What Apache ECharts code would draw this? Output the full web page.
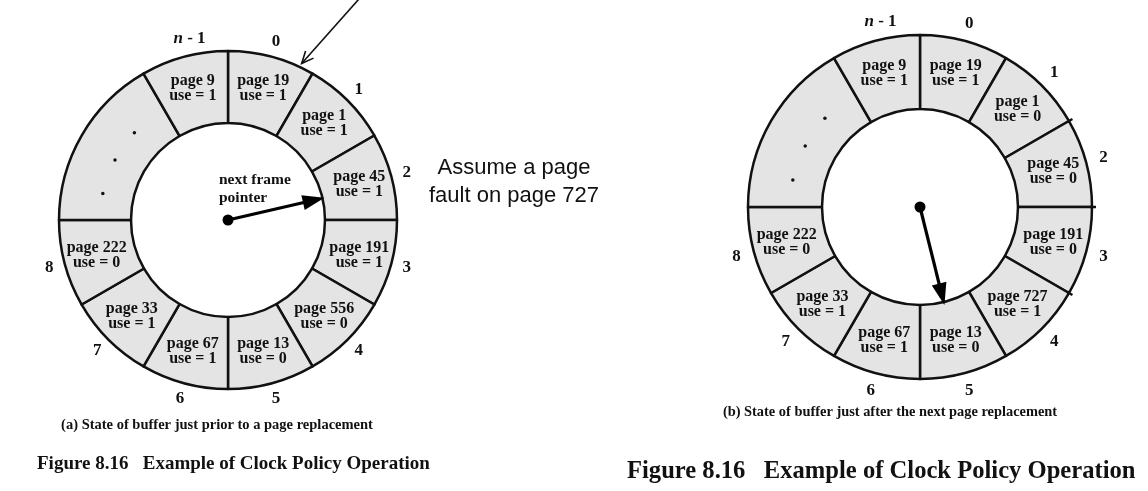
<!DOCTYPE html>
<html>
<head>
<meta charset="utf-8">
<script src="https://cdn.jsdelivr.net/npm/echarts@6/dist/echarts.min.js"></script>
<style>
  html, body { margin: 0; padding: 0; background: #fff; }
  #main { width: 1148px; height: 491px; }
</style>
</head>
<body>
<div id="main"></div>
<script>
// buffer frames, clockwise from the top (frame 0), the "..." gap spans two slots
var spans = [30, 30, 30, 30, 30, 30, 30, 30, 30, 60, 30];
var pagesA = ['page 19', 'page 1', 'page 45', 'page 191', 'page 556', 'page 13', 'page 67', 'page 33', 'page 222', '', 'page 9'];
var useA = [1, 1, 1, 1, 0, 0, 1, 1, 0, null, 1];
var pagesB = ['page 19', 'page 1', 'page 45', 'page 191', 'page 727', 'page 13', 'page 67', 'page 33', 'page 222', '', 'page 9'];
var useB = [1, 0, 0, 0, 1, 0, 1, 1, 0, null, 1];

// frame numbers around the ring (angle in degrees, clockwise from top)
var frameLabels = ['0', '1', '2', '3', '4', '5', '6', '7', '8', 'n - 1'];
var frameAngles = [15, 45, 75, 105, 135, 165, 195, 225, 255, 348];
var dotAngles = [282, 298, 313];

// next frame pointer: [length, angle]
var pointerA = [99, 77];
var pointerB = [101, 166];
// incoming arrow on (a): [r from, angle from, r to, angle to]
var incoming = [258, 30.7, 173, 25.2];
// small overshoots of the divider lines on (b)
var tickAnglesB = [60, 90, 120];

var SERIF = '"Liberation Serif", "Times New Roman", serif';
var SANS = '"Liberation Sans", Arial, sans-serif';

function ringData(pages, use) {
  return spans.map(function (v, i) {
    return { value: v, name: pages[i], use: use[i] };
  });
}

function ringSeries(pages, use, center, radius) {
  return {
    type: 'pie',
    center: center,
    radius: radius,
    startAngle: 90,
    clockwise: true,
    silent: true,
    avoidLabelOverlap: false,
    emphasis: { disabled: true },
    itemStyle: { color: '#e4e4e4', borderColor: '#111', borderWidth: 2.5 },
    label: {
      show: true,
      position: 'inside',
      color: '#111',
      fontFamily: SERIF,
      fontWeight: 'bold',
      fontSize: 16,
      lineHeight: 15,
      formatter: function (p) {
        if (!p.name) return '';
        return p.name + '\nuse = ' + p.data.use;
      }
    },
    labelLine: { show: false },
    data: ringData(pages, use)
  };
}

function labelSeries(idx, r) {
  return {
    type: 'scatter',
    coordinateSystem: 'polar',
    polarIndex: idx,
    silent: true,
    symbolSize: 1,
    itemStyle: { color: 'rgba(0,0,0,0)', opacity: 1 },
    label: {
      show: true,
      position: 'inside',
      color: '#111',
      fontFamily: SERIF,
      fontWeight: 'bold',
      fontSize: 17,
      formatter: function (p) {
        return p.name === 'n - 1' ? '{i|n} - 1' : p.name;
      },
      rich: {
        i: { fontStyle: 'italic', fontFamily: SERIF, fontWeight: 'bold', fontSize: 17, color: '#111' }
      }
    },
    data: frameLabels.map(function (t, i) {
      return { name: t, value: [r, frameAngles[i]] };
    })
  };
}

function dotSeries(idx, r) {
  return {
    type: 'scatter',
    coordinateSystem: 'polar',
    polarIndex: idx,
    silent: true,
    symbolSize: 3.5,
    itemStyle: { color: '#111', opacity: 1 },
    data: dotAngles.map(function (a) { return [r, a]; })
  };
}

function pointerSeries(idx, p) {
  return {
    type: 'custom',
    coordinateSystem: 'polar',
    polarIndex: idx,
    silent: true,
    z: 5,
    renderItem: function (params, api) {
      var len = api.value(0), ang = api.value(1);
      var c = api.coord([0, ang]);
      var t = api.coord([len, ang]);
      var dx = t[0] - c[0], dy = t[1] - c[1];
      var d = Math.sqrt(dx * dx + dy * dy);
      var ux = dx / d, uy = dy / d;
      var hl = 22, hw = 7.5;
      var bx = t[0] - ux * hl, by = t[1] - uy * hl;
      return {
        type: 'group',
        children: [
          { type: 'line', shape: { x1: c[0], y1: c[1], x2: bx + ux * 3, y2: by + uy * 3 },
            style: { stroke: '#000', lineWidth: 3.2 } },
          { type: 'polygon', shape: { points: [[t[0], t[1]], [bx - uy * hw, by + ux * hw], [bx + uy * hw, by - ux * hw]] },
            style: { fill: '#000' } },
          { type: 'circle', shape: { cx: c[0], cy: c[1], r: 5.5 }, style: { fill: '#000' } }
        ]
      };
    },
    data: [p]
  };
}

var option = {
  animation: false,
  backgroundColor: '#fff',
  polar: [
    { center: [228, 220], radius: 260 },
    { center: [920, 207], radius: 260 }
  ],
  angleAxis: [0, 1].map(function (i) {
    return {
      polarIndex: i, type: 'value', min: 0, max: 360, startAngle: 90, clockwise: true,
      axisLine: { show: false }, axisTick: { show: false }, axisLabel: { show: false },
      splitLine: { show: false }, splitArea: { show: false }
    };
  }),
  radiusAxis: [0, 1].map(function (i) {
    return {
      polarIndex: i, type: 'value', min: 0, max: 260,
      axisLine: { show: false }, axisTick: { show: false }, axisLabel: { show: false },
      splitLine: { show: false }, splitArea: { show: false }
    };
  }),
  graphic: [
    { type: 'text', x: 514, y: 182, style: { text: 'Assume a page\nfault on page 727', font: '22px ' + SANS,
      align: 'center', verticalAlign: 'middle', lineHeight: 28, fill: '#111' } },
    { type: 'text', x: 219, y: 189, z: 10, style: { text: 'next frame\npointer', font: 'bold 15.5px ' + SERIF,
      align: 'left', verticalAlign: 'middle', lineHeight: 18, fill: '#111' } },
    { type: 'text', x: 217, y: 425, style: { text: '(a) State of buffer just prior to a page replacement',
      font: 'bold 14.5px ' + SERIF, align: 'center', verticalAlign: 'middle', fill: '#111' } },
    { type: 'text', x: 890, y: 412, style: { text: '(b) State of buffer just after the next page replacement',
      font: 'bold 14.4px ' + SERIF, align: 'center', verticalAlign: 'middle', fill: '#111' } },
    { type: 'text', x: 37, y: 464, style: { text: 'Figure 8.16   Example of Clock Policy Operation',
      font: 'bold 19px ' + SERIF, align: 'left', verticalAlign: 'middle', fill: '#111' } },
    { type: 'text', x: 627, y: 472, style: { text: 'Figure 8.16   Example of Clock Policy Operation',
      font: 'bold 24.6px ' + SERIF, align: 'left', verticalAlign: 'middle', fill: '#111' } }
  ],
  series: [
    ringSeries(pagesA, useA, [228, 220], [97, 169]),
    ringSeries(pagesB, useB, [920, 207], [98, 172]),
    labelSeries(0, 185),
    labelSeries(1, 190),
    dotSeries(0, 128),
    dotSeries(1, 130),
    pointerSeries(0, pointerA),
    pointerSeries(1, pointerB),
    {
      type: 'custom',
      coordinateSystem: 'polar',
      polarIndex: 0,
      silent: true,
      z: 5,
      renderItem: function (params, api) {
        var a = api.coord([api.value(0), api.value(1)]);
        var t = api.coord([api.value(2), api.value(3)]);
        var dx = t[0] - a[0], dy = t[1] - a[1];
        var d = Math.sqrt(dx * dx + dy * dy);
        var ux = dx / d, uy = dy / d;
        var hl = 13, s = Math.sin(0.42), co = Math.cos(0.42);
        var l1 = [t[0] - hl * (ux * co - uy * s), t[1] - hl * (uy * co + ux * s)];
        var l2 = [t[0] - hl * (ux * co + uy * s), t[1] - hl * (uy * co - ux * s)];
        return {
          type: 'group',
          children: [
            { type: 'line', shape: { x1: a[0], y1: a[1], x2: t[0], y2: t[1] }, style: { stroke: '#111', lineWidth: 1.6 } },
            { type: 'polyline', shape: { points: [l1, t, l2] }, style: { stroke: '#111', lineWidth: 1.6, fill: null } }
          ]
        };
      },
      data: [incoming]
    },
    {
      type: 'custom',
      coordinateSystem: 'polar',
      polarIndex: 1,
      silent: true,
      z: 4,
      renderItem: function (params, api) {
        var p1 = api.coord([170, api.value(0)]);
        var p2 = api.coord([176, api.value(0)]);
        return { type: 'line', shape: { x1: p1[0], y1: p1[1], x2: p2[0], y2: p2[1] },
          style: { stroke: '#111', lineWidth: 2.5 } };
      },
      data: tickAnglesB.map(function (a) { return [a]; })
    }
  ]
};

var chart = echarts.init(document.getElementById('main'));
chart.setOption(option);
</script>
</body>
</html>
